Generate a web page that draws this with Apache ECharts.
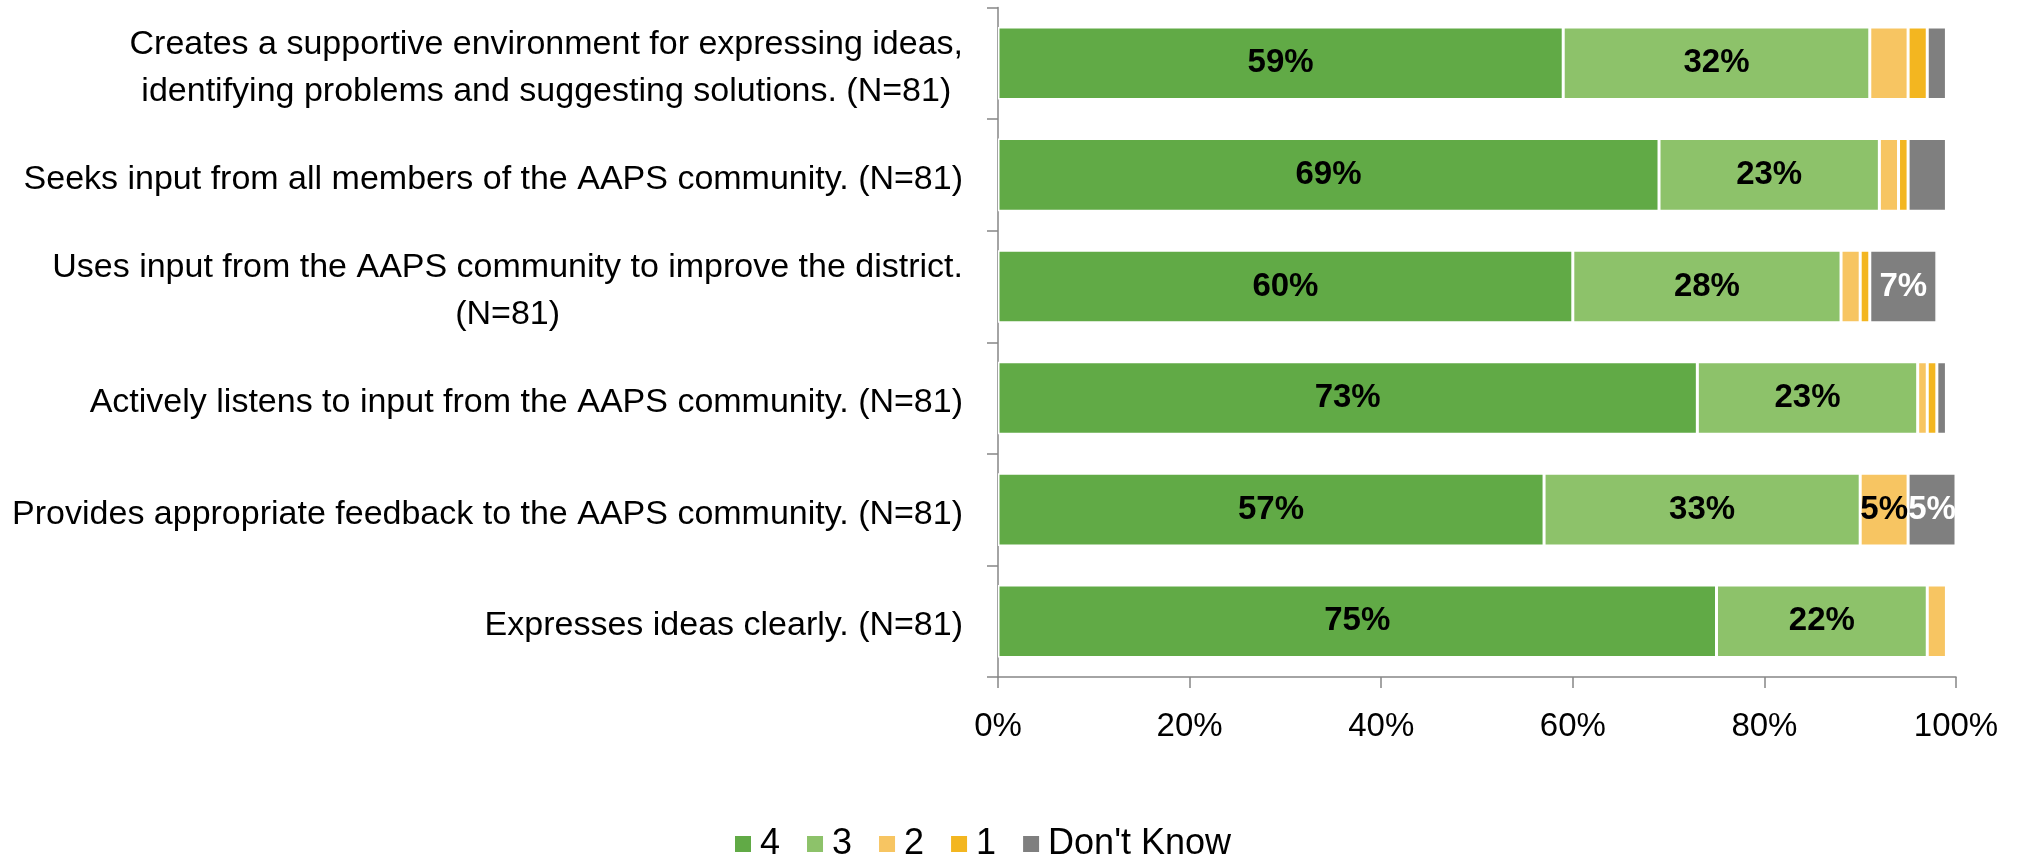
<!DOCTYPE html>
<html>
<head>
<meta charset="utf-8">
<script src="https://cdn.jsdelivr.net/npm/echarts@6/dist/echarts.min.js"></script>
<style>
html,body{margin:0;padding:0;background:#fff;}
#chart{width:2018px;height:861px;}
</style>
</head>
<body>
<div id="chart"></div>
<script>
var categories = [
  "Creates a supportive environment for expressing ideas,\nidentifying problems and suggesting solutions. (N=81)",
  "Seeks input from all members of the AAPS community. (N=81)",
  "Uses input from the AAPS community to improve the district.\n(N=81)",
  "Actively listens to input from the AAPS community. (N=81)",
  "Provides appropriate feedback to the AAPS community. (N=81)",
  "Expresses ideas clearly. (N=81)"
];
var seriesNames = ["4", "3", "2", "1", "Don't Know"];
var values4 = [59, 69, 60, 73, 57, 75];
var values3 = [32, 23, 28, 23, 33, 22];
var values2 = [4, 2, 2, 1, 5, 2];
var values1 = [2, 1, 1, 1, 0, 0];
var valuesDK = [2, 4, 7, 1, 5, 0];
var xTicks = [0, 20, 40, 60, 80, 100];

var colors = ["#61AA46", "#8DC26A", "#F7C562", "#F3B620", "#7F7F7F"];
var labelColors = ["#000", "#000", "#000", "#000", "#fff"];
var allValues = [values4, values3, values2, values1, valuesDK];
var FONT = "'Liberation Sans', Arial, sans-serif";

function catFormatter(v) {
  var lines = v.split("\n");
  if (lines.length === 1) return "{s|" + v + "}";
  return lines.map(function (l) { return "{c|" + l + "}"; }).join("\n");
}

var series = seriesNames.map(function (name, i) {
  return {
    name: name,
    type: "bar",
    stack: "total",
    barCategoryGap: "35%",
    data: allValues[i],
    itemStyle: { color: colors[i], borderColor: "#fff", borderWidth: 1.5 },
    label: {
      show: true,
      position: "inside",
      fontFamily: FONT,
      fontSize: 33,
      fontWeight: "bold",
      color: labelColors[i],
      formatter: function (p) { return p.value >= 5 ? p.value + "%" : ""; }
    }
  };
});

var chart = echarts.init(document.getElementById("chart"), null, { renderer: "canvas" });
chart.setOption({
  animation: false,
  backgroundColor: "#fff",
  color: colors,
  grid: { left: 998, right: 62, top: 7.5, bottom: 184, containLabel: false },
  legend: {
    data: seriesNames,
    left: 733,
    top: 826,
    padding: 0,
    itemWidth: 18,
    itemHeight: 18,
    itemGap: 25,
    icon: "rect",
    textStyle: { fontFamily: FONT, fontSize: 36, color: "#000", padding: [0, 0, 0, 3] }
  },
  xAxis: {
    type: "value",
    min: 0,
    max: 100,
    interval: 20,
    axisLine: { show: true, lineStyle: { color: "#868686", width: 1.5 } },
    axisTick: { show: true, length: 11, lineStyle: { color: "#868686", width: 1.5 } },
    splitLine: { show: false },
    axisLabel: {
      margin: 33,
      fontFamily: FONT,
      fontSize: 33,
      color: "#000",
      formatter: function (v) { return xTicks.indexOf(v) >= 0 ? v + "%" : ""; }
    }
  },
  yAxis: {
    type: "category",
    inverse: true,
    data: categories,
    axisLine: { show: true, lineStyle: { color: "#868686", width: 1.5 } },
    axisTick: { show: true, length: 11, lineStyle: { color: "#868686", width: 1.5 } },
    axisLabel: {
      margin: 35,
      fontFamily: FONT,
      fontSize: 34,
      color: "#000",
      lineHeight: 47,
      padding: [9, 0, 0, 0],
      formatter: catFormatter,
      rich: {
        c: { align: "center", fontFamily: FONT, fontSize: 34, color: "#000", lineHeight: 47 },
        s: { fontFamily: FONT, fontSize: 34, color: "#000", lineHeight: 47 }
      }
    }
  },
  series: series
});
</script>
</body>
</html>
